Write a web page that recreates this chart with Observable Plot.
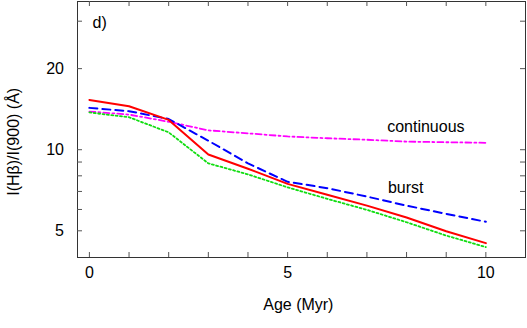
<!DOCTYPE html>
<html>
<head>
<meta charset="utf-8">
<script src="https://cdn.jsdelivr.net/npm/d3@7"></script>
<script src="https://cdn.jsdelivr.net/npm/@observablehq/plot@0.6"></script>
<style>
  html, body { margin: 0; padding: 0; background: #fff; }
  svg { display: block; }
</style>
</head>
<body>
<div id="chart"></div>
<script>
const ages = [0, 1, 2, 3, 4, 5, 6, 7, 8, 9, 10];
const burstRed   = [15.3, 14.5, 12.9, 9.6, 8.5, 7.47, 6.8, 6.2, 5.6, 4.98, 4.5];
const burstBlue  = [14.3, 13.9, 13.0, 10.8, 8.9, 7.6, 7.2, 6.7, 6.2, 5.78, 5.4];
const burstGreen = [13.75, 13.2, 11.6, 8.9, 8.1, 7.25, 6.57, 5.98, 5.38, 4.8, 4.35];
const continuousMagenta = [13.86, 13.5, 12.7, 11.8, 11.5, 11.2, 11.03, 10.89, 10.72, 10.66, 10.61];

const xTicksMinor = [0, 1, 2, 3, 4, 5, 6, 7, 8, 9, 10];
const xTickLabels = [0, 5, 10];
const yTicksMinor = [5, 6, 7, 8, 9, 10, 20, 30];
const yTickLabels = [5, 10, 20];

const labels = [
  {text: "continuous", x: 7.51, y: 12.2},
  {text: "burst", x: 7.53, y: 7.19}
];
const xTitle = {text: "Age (Myr)", x: 5.27};
const yTitle = {text: "I(Hβ)/I(900) (Å)", x: -1.9, y: 10.7};

function series(vals) { return ages.map((a, i) => ({age: a, v: vals[i]})); }

const W = 527, H = 328;
const mT = 1, mB = 71, mL = 77, mR = 2;
const pw = W - mL - mR, ph = H - mT - mB;
const font = "Liberation Sans, Arial, Helvetica, sans-serif";

const chart = Plot.plot({
  width: W, height: H,
  marginTop: mT, marginBottom: mB, marginLeft: mL, marginRight: mR,
  style: {fontFamily: font, fontSize: "16px", color: "#000", background: "#fff"},
  x: {domain: [-0.3, 11]},
  y: {type: "log", domain: [3.98, 35.5]},
  marks: [
    Plot.frame({stroke: "#333", strokeWidth: 1}),
    // inward ticks
    Plot.tickX(xTicksMinor, {x: d => d, insetTop: ph - 5, stroke: "#555"}),
    Plot.tickX(xTicksMinor, {x: d => d, insetBottom: ph - 5, stroke: "#555"}),
    Plot.tickY(yTicksMinor, {y: d => d, insetRight: pw - 5, stroke: "#555"}),
    Plot.tickY(yTicksMinor, {y: d => d, insetLeft: pw - 5, stroke: "#555"}),
    // tick labels
    Plot.axisX({ticks: xTickLabels, tickSize: 0, tickPadding: 9, label: null, tickFormat: d => String(d), fontSize: 16}),
    Plot.axisY({ticks: yTickLabels, tickSize: 0, tickPadding: 13.5, label: null, tickFormat: d => String(d), fontSize: 16}),
    // lines
    Plot.line(series(continuousMagenta), {x: "age", y: "v", stroke: "#ff00ff", strokeWidth: 1.8, strokeDasharray: "6,3,2,3"}),
    Plot.line(series(burstGreen), {x: "age", y: "v", stroke: "#11dd11", strokeWidth: 1.8, strokeDasharray: "2,2.4"}),
    Plot.line(series(burstBlue), {x: "age", y: "v", stroke: "#0000ff", strokeWidth: 2, strokeDasharray: "8,5"}),
    Plot.line(series(burstRed), {x: "age", y: "v", stroke: "#ff0000", strokeWidth: 2}),
    // annotations
    Plot.text(labels, {x: "x", y: "y", text: "text", textAnchor: "start", fontSize: 16, fill: "#000"}),
    Plot.text(["d)"], {frameAnchor: "top-left", textAnchor: "start", lineAnchor: "middle", dx: 15, dy: 21, fontSize: 16, fill: "#000"}),
    Plot.text([xTitle], {x: "x", text: "text", frameAnchor: "bottom", lineAnchor: "middle", dy: 47, fontSize: 16, fill: "#000"}),
    Plot.text([yTitle], {x: "x", y: "y", text: "text", rotate: -90, lineAnchor: "middle", fontSize: 16, fill: "#000"})
  ]
});
document.getElementById("chart").appendChild(chart);
</script>
</body>
</html>
